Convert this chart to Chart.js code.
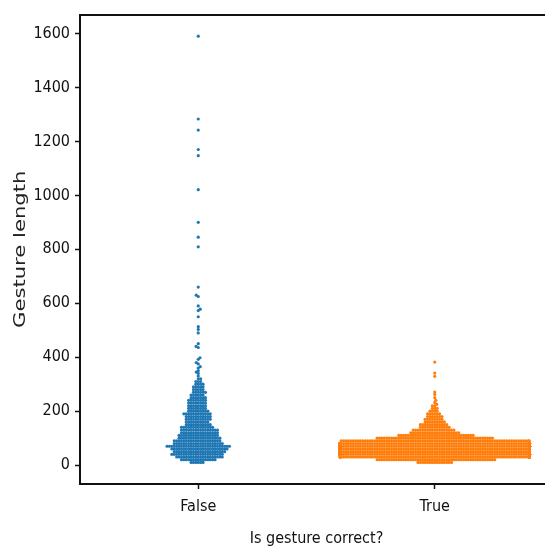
<!DOCTYPE html>
<html><head><meta charset="utf-8">
<script src="https://cdn.jsdelivr.net/npm/chart.js@4"></script>
<style>html,body{margin:0;padding:0;background:#fff;overflow:hidden}#wrap{width:560px;height:560px}</style>
</head><body><div id="wrap"><canvas id="c" width="560" height="560"></canvas></div>
<script>
const categories = ['False', 'True'];
const yTicks = [0, 200, 400, 600, 800, 1000, 1200, 1400, 1600];

// "False" group: dense part read as rows (value, number of points), plus single points
const falseRowValues = [10,20,30,40,50,60,70,80,90,100,110,120,130,140,150,160,170,180,190,200,210,220,230,240,250,260,270,280,290,300,310,320,330,340];
const falseRowCounts = [6,15,20,22,22,24,27,21,20,18,17,16,16,14,11,10,11,11,12,9,8,8,8,8,7,6,6,5,5,4,3,2,1,1];
const falseSingles = [345,350,360,365,375,380,392,398,436,440,450,490,503,513,550,573,578,590,625,630,660,809,845,900,1021,1147,1170,1242,1283,1590];

// "True" group
const trueRowValues = [10,20,30,40,50,60,70,80,90,100,110,120,130,140,150,160,170,180,190,200,210,220];
const trueRowCounts = [15,50,90,140,180,180,160,120,80,49,32,21,18,13,12,9,8,7,6,4,3,2];
const trueSingles = [225,232,240,250,262,271,329,341,382];

const colors = ['#1f77b4', '#ff7f0e'];
const DOT_D = 2.4;      // collision diameter (px) used by the swarm layout
const SWARM_WIDTH = 0.4; // half-width of a swarm, in category units

function expand(rowVals, rowCounts, singles) {
  const out = [];
  rowVals.forEach((v, i) => { for (let k = 0; k < rowCounts[i]; k++) out.push(v); });
  singles.forEach(v => out.push(v));
  return out;
}
const groupValues = [
  expand(falseRowValues, falseRowCounts, falseSingles),
  expand(trueRowValues, trueRowCounts, trueSingles)
];

function swarm(pys, d, maxW) {
  const idx = pys.map((y, i) => i).sort((a, b) => pys[b] - pys[a]);
  const placedY = [], placedX = [];
  const out = new Array(pys.length);
  let flip = 0;
  for (const i of idx) {
    const y = pys[i];
    const iv = [];
    for (let j = placedY.length - 1; j >= 0; j--) {
      const dy = Math.abs(placedY[j] - y);
      if (dy >= d) break;
      const w = Math.sqrt(d * d - dy * dy);
      iv.push([placedX[j] - w, placedX[j] + w]);
    }
    iv.sort((a, b) => a[0] - b[0]);
    const m = [];
    for (const s of iv) {
      if (m.length && s[0] < m[m.length - 1][1] - 1e-9) m[m.length - 1][1] = Math.max(m[m.length - 1][1], s[1]);
      else m.push([s[0], s[1]]);
    }
    let x = 0;
    for (const s of m) {
      if (s[0] < -1e-9 && s[1] > 1e-9) {
        const a = s[0], b = s[1];
        if (Math.abs(Math.abs(a) - Math.abs(b)) < 1e-6) { x = (flip++ % 2) ? b : a; }
        else x = Math.abs(a) < Math.abs(b) ? a : b;
        break;
      }
    }
    if (Math.abs(x) > maxW) {
      x = Math.sign(x) * maxW;
    } else {
      placedY.push(y); placedX.push(x);
    }
    out[i] = x;
  }
  return out;
}

const tickFont = { family: 'DejaVu Sans Condensed', size: 16 };
const axisColor = '#111';

// stretch the y-axis title along its length, as in the reference
const titleStretch = {
  id: 'titleStretch',
  beforeDraw(chart) {
    const s = chart.scales.y;
    if (s && !s._stretched) {
      const orig = s.drawTitle.bind(s);
      s.drawTitle = function () {
        const ctx = this.ctx;
        const cy = (this.top + this.bottom) / 2;
        ctx.save();
        ctx.translate(0, cy);
        ctx.scale(1, 1.32);
        ctx.translate(0, -cy);
        orig();
        ctx.restore();
      };
      s._stretched = true;
    }
  }
};

const config = {
  type: 'scatter',
  data: {
    datasets: groupValues.map((vals, ci) => ({
      label: categories[ci],
      data: vals.map(v => ({ x: ci, y: v })),
      backgroundColor: colors[ci],
      borderWidth: 0,
      pointRadius: 1.6,
      pointHoverRadius: 1.6
    }))
  },
  plugins: [titleStretch],
  options: {
    responsive: false,
    animation: false,
    devicePixelRatio: 1,
    layout: { padding: { left: 0, right: 7, top: 0, bottom: 0 } },
    plugins: { legend: { display: false }, tooltip: { enabled: false } },
    events: [],
    scales: {
      x: {
        type: 'linear', position: 'bottom', min: -0.5, max: 1.5,
        afterBuildTicks: s => { s.ticks = [{ value: 0 }, { value: 1 }]; },
        afterFit: s => { s.height = 76; },
        ticks: { callback: v => categories[v], font: tickFont, color: '#111', padding: 8, maxRotation: 0 },
        grid: { drawOnChartArea: false, drawTicks: true, tickLength: 5, tickColor: axisColor, tickWidth: 1.5 },
        border: { display: true, color: axisColor, width: 2 },
        title: { display: true, text: 'Is gesture correct?', font: tickFont, color: '#111', padding: { top: 0, bottom: 12 } }
      },
      x2: {
        type: 'linear', axis: 'x', position: 'top', min: -0.5, max: 1.5,
        afterFit: s => { s.height = 13; },
        ticks: { display: false },
        grid: { drawOnChartArea: false, drawTicks: false },
        border: { display: true, color: axisColor, width: 2 }
      },
      y: {
        type: 'linear', position: 'left', min: -70, max: 1670,
        afterBuildTicks: s => { s.ticks = yTicks.map(v => ({ value: v })); },
        afterFit: s => { s.width = 80; },
        ticks: { font: tickFont, color: '#111', padding: 5, callback: v => String(v) },
        grid: { drawOnChartArea: false, drawTicks: true, tickLength: 5, tickColor: axisColor, tickWidth: 1.5 },
        border: { display: true, color: axisColor, width: 2 },
        title: { display: true, text: 'Gesture length', font: { family: 'DejaVu Sans', size: 16 }, color: '#222', padding: { top: 11, bottom: 0 } }
      }
    }
  }
};

const chart = new Chart(document.getElementById('c').getContext('2d'), config);

function applySwarm() {
  const ys = chart.scales.y, xs = chart.scales.x;
  const pxPerUnit = xs.getPixelForValue(1) - xs.getPixelForValue(0);
  const maxW = SWARM_WIDTH * pxPerUnit;
  chart.data.datasets.forEach((ds, ci) => {
    const vals = groupValues[ci];
    const pys = vals.map(v => ys.getPixelForValue(v));
    const dx = swarm(pys, DOT_D, maxW);
    ds.data = vals.map((v, i) => ({ x: ci + dx[i] / pxPerUnit, y: v }));
  });
  chart.update('none');
}
applySwarm();
</script>
</body></html>
